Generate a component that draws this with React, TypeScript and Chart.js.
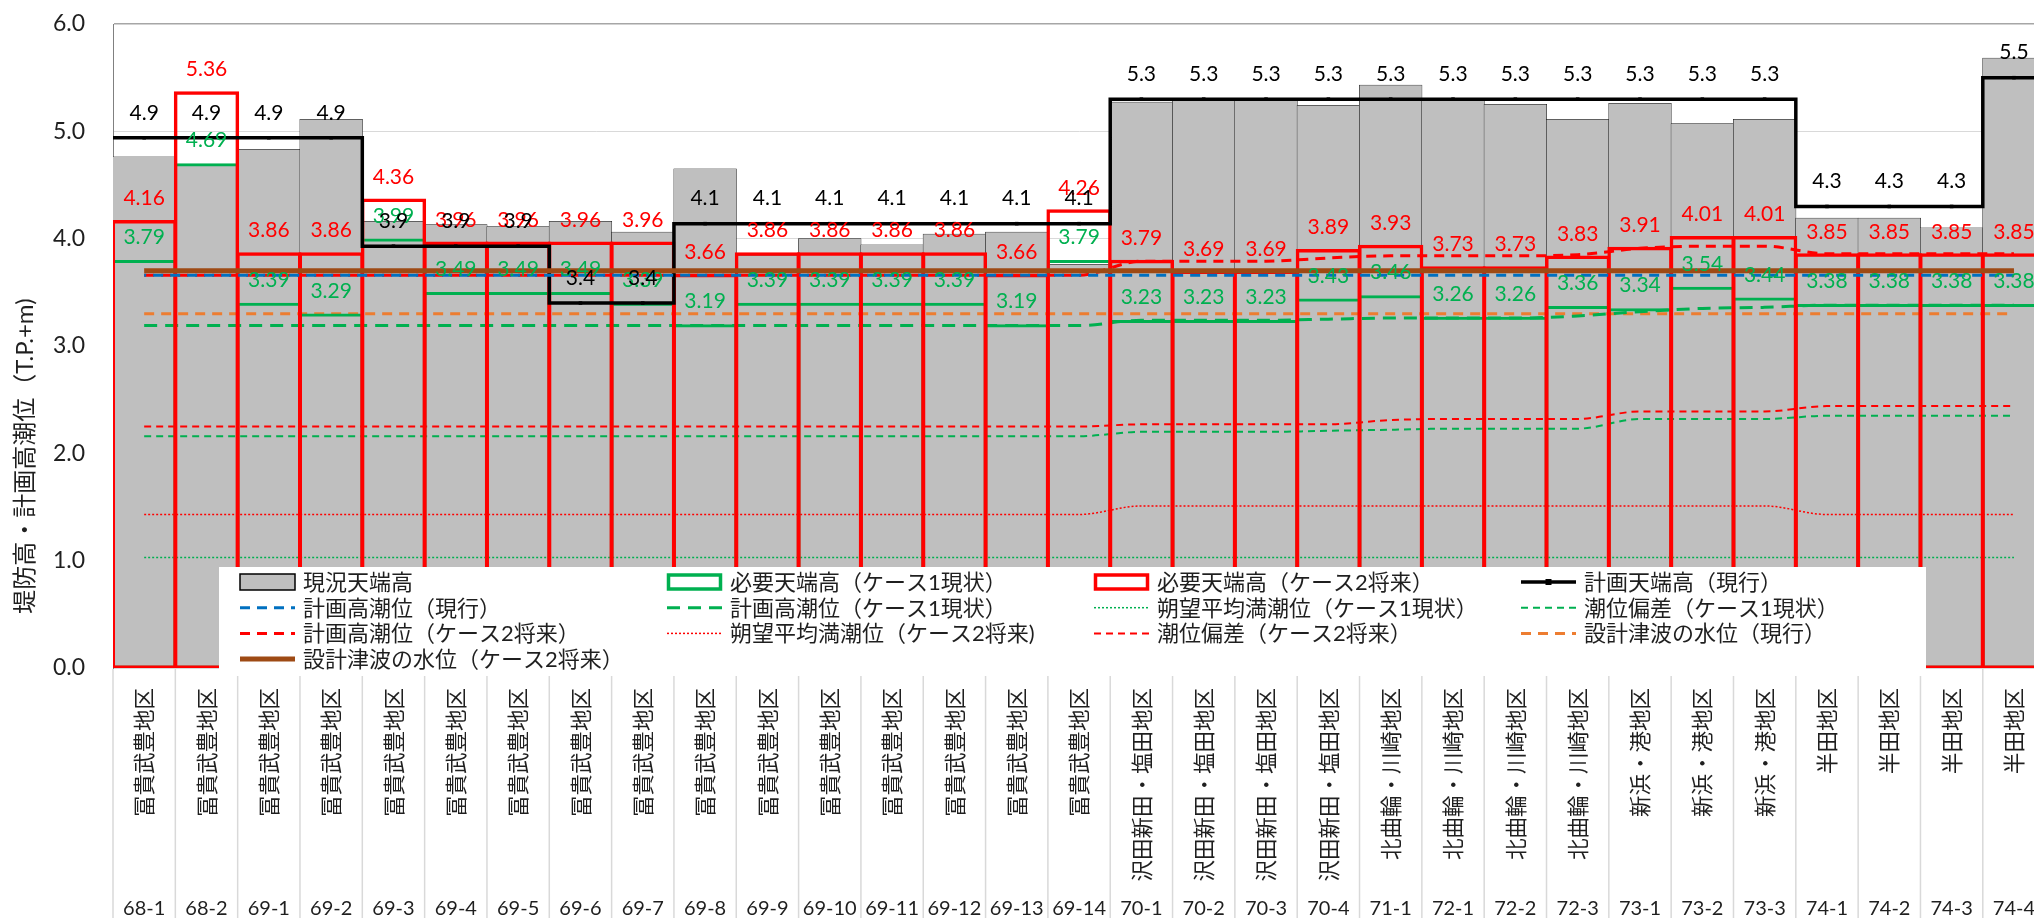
import React, { useEffect, useRef } from 'react';
import { Chart, registerables } from 'chart.js';

Chart.register(...registerables);

// ---------------- data ----------------
const sectionCodes = [
  '68-1', '68-2', '69-1', '69-2', '69-3', '69-4', '69-5', '69-6', '69-7', '69-8',
  '69-9', '69-10', '69-11', '69-12', '69-13', '69-14', '70-1', '70-2', '70-3', '70-4',
  '71-1', '72-1', '72-2', '72-3', '73-1', '73-2', '73-3', '74-1', '74-2', '74-3', '74-4',
];

const districtNames = [
  '冨貴武豊地区', '冨貴武豊地区', '冨貴武豊地区', '冨貴武豊地区', '冨貴武豊地区', '冨貴武豊地区',
  '冨貴武豊地区', '冨貴武豊地区', '冨貴武豊地区', '冨貴武豊地区', '冨貴武豊地区', '冨貴武豊地区',
  '冨貴武豊地区', '冨貴武豊地区', '冨貴武豊地区', '冨貴武豊地区',
  '沢田新田・塩田地区', '沢田新田・塩田地区', '沢田新田・塩田地区', '沢田新田・塩田地区',
  '北曲輪・川崎地区', '北曲輪・川崎地区', '北曲輪・川崎地区', '北曲輪・川崎地区',
  '新浜・港地区', '新浜・港地区', '新浜・港地区',
  '半田地区', '半田地区', '半田地区', '半田地区',
];

// 現況天端高
const existingCrest = [
  4.76, 4.68, 4.83, 5.11, 4.16, 4.13, 4.11, 4.16, 4.06, 4.65, 3.84, 4.0, 3.94, 4.04, 4.06, 3.76,
  5.27, 5.3, 5.29, 5.24, 5.43, 5.3, 5.25, 5.11, 5.26, 5.07, 5.11, 4.19, 4.19, 4.1, 5.68,
];
// 必要天端高（ケース1現状）
const requiredCase1 = [
  3.79, 4.69, 3.39, 3.29, 3.99, 3.49, 3.49, 3.49, 3.39, 3.19, 3.39, 3.39, 3.39, 3.39, 3.19, 3.79,
  3.23, 3.23, 3.23, 3.43, 3.46, 3.26, 3.26, 3.36, 3.34, 3.54, 3.44, 3.38, 3.38, 3.38, 3.38,
];
// 必要天端高（ケース2将来）
const requiredCase2 = [
  4.16, 5.36, 3.86, 3.86, 4.36, 3.96, 3.96, 3.96, 3.96, 3.66, 3.86, 3.86, 3.86, 3.86, 3.66, 4.26,
  3.79, 3.69, 3.69, 3.89, 3.93, 3.73, 3.73, 3.83, 3.91, 4.01, 4.01, 3.85, 3.85, 3.85, 3.85,
];
// 計画天端高（現行）
const plannedCrest = [
  4.94, 4.94, 4.94, 4.94, 3.93, 3.93, 3.93, 3.4, 3.4, 4.14, 4.14, 4.14, 4.14, 4.14, 4.14, 4.14,
  5.3, 5.3, 5.3, 5.3, 5.3, 5.3, 5.3, 5.3, 5.3, 5.3, 5.3, 4.3, 4.3, 4.3, 5.5,
];
// 計画高潮位（現行）
const highTideCurrent = [
  3.66, 3.66, 3.66, 3.66, 3.66, 3.66, 3.66, 3.66, 3.66, 3.66, 3.66, 3.66, 3.66, 3.66, 3.66, 3.66,
  3.66, 3.66, 3.66, 3.66, 3.66, 3.66, 3.66, 3.66, 3.66, 3.66, 3.66, 3.66, 3.66, 3.66, 3.66,
];
// 計画高潮位（ケース1現状）
const highTideCase1 = [
  3.19, 3.19, 3.19, 3.19, 3.19, 3.19, 3.19, 3.19, 3.19, 3.19, 3.19, 3.19, 3.19, 3.19, 3.19, 3.19,
  3.24, 3.24, 3.24, 3.25, 3.26, 3.26, 3.26, 3.28, 3.32, 3.35, 3.36, 3.38, 3.38, 3.38, 3.38,
];
// 朔望平均満潮位（ケース1現状）
const meanHighWaterCase1 = [
  1.03, 1.03, 1.03, 1.03, 1.03, 1.03, 1.03, 1.03, 1.03, 1.03, 1.03, 1.03, 1.03, 1.03, 1.03, 1.03,
  1.03, 1.03, 1.03, 1.03, 1.03, 1.03, 1.03, 1.03, 1.03, 1.03, 1.03, 1.03, 1.03, 1.03, 1.03,
];
// 潮位偏差（ケース1現状）
const surgeCase1 = [
  2.16, 2.16, 2.16, 2.16, 2.16, 2.16, 2.16, 2.16, 2.16, 2.16, 2.16, 2.16, 2.16, 2.16, 2.16, 2.16,
  2.2, 2.2, 2.2, 2.21, 2.22, 2.23, 2.23, 2.23, 2.32, 2.32, 2.32, 2.35, 2.35, 2.35, 2.35,
];
// 計画高潮位（ケース2将来）
const highTideCase2 = [
  3.66, 3.66, 3.66, 3.66, 3.66, 3.66, 3.66, 3.66, 3.66, 3.66, 3.66, 3.66, 3.66, 3.66, 3.66, 3.66,
  3.79, 3.79, 3.79, 3.82, 3.84, 3.84, 3.84, 3.85, 3.91, 3.93, 3.93, 3.86, 3.86, 3.86, 3.86,
];
// 朔望平均満潮位（ケース2将来)
const meanHighWaterCase2 = [
  1.43, 1.43, 1.43, 1.43, 1.43, 1.43, 1.43, 1.43, 1.43, 1.43, 1.43, 1.43, 1.43, 1.43, 1.43, 1.43,
  1.51, 1.51, 1.51, 1.51, 1.51, 1.51, 1.51, 1.51, 1.51, 1.51, 1.51, 1.43, 1.43, 1.43, 1.43,
];
// 潮位偏差（ケース2将来）
const surgeCase2 = [
  2.25, 2.25, 2.25, 2.25, 2.25, 2.25, 2.25, 2.25, 2.25, 2.25, 2.25, 2.25, 2.25, 2.25, 2.25, 2.25,
  2.27, 2.27, 2.27, 2.27, 2.31, 2.32, 2.32, 2.32, 2.39, 2.39, 2.39, 2.44, 2.44, 2.44, 2.44,
];
// 設計津波の水位（現行）
const tsunamiCurrent = [
  3.3, 3.3, 3.3, 3.3, 3.3, 3.3, 3.3, 3.3, 3.3, 3.3, 3.3, 3.3, 3.3, 3.3, 3.3, 3.3,
  3.3, 3.3, 3.3, 3.3, 3.3, 3.3, 3.3, 3.3, 3.3, 3.3, 3.3, 3.3, 3.3, 3.3, 3.3,
];
// 設計津波の水位（ケース2将来）
const tsunamiCase2 = [
  3.7, 3.7, 3.7, 3.7, 3.7, 3.7, 3.7, 3.7, 3.7, 3.7, 3.7, 3.7, 3.7, 3.7, 3.7, 3.7,
  3.7, 3.7, 3.7, 3.7, 3.7, 3.7, 3.7, 3.7, 3.7, 3.7, 3.7, 3.7, 3.7, 3.7, 3.7,
];

const yAxisMin = 0;
const yAxisMax = 6;
const yAxisStep = 1;
const yAxisTitle = '堤防高・計画高潮位（T.P.+m)';

// ---------------- styles ----------------
const FONT = 'Lato, "Noto Sans CJK JP", sans-serif';
const CJK = '"Noto Sans CJK JP", sans-serif';
const TEXT = '#1f1f1f';
const RED = '#FF0000';
const GREEN = '#00B050';
const BLUE = '#0070C0';
const ORANGE = '#ED7D31';
const BROWN = '#9E4A14';
const GREY = '#BFBFBF';

const CANVAS_W = 2060;
const CANVAS_H = 927;

function lineDs(label: string, data: number[], color: string, width: number, dash: number[], order: number, dashOffset = 0) {
  return {
    type: 'line' as const,
    label,
    data,
    borderColor: color,
    backgroundColor: color,
    borderWidth: width,
    borderDash: dash,
    borderDashOffset: dashOffset,
    pointRadius: 0,
    pointHoverRadius: 0,
    fill: false,
    tension: 0.4,
    cubicInterpolationMode: 'monotone' as const,
    order,
  };
}

const overlayPlugin = {
  id: 'overlayPlugin',
  afterDatasetsDraw(chart: any) {
    const ctx = chart.ctx;
    chart.data.datasets.forEach((ds: any, di: number) => {
      const cfg = ds.valueLabel;
      if (!cfg) return;
      const meta = chart.getDatasetMeta(di);
      ctx.save();
      ctx.font = `21px ${FONT}`;
      ctx.fillStyle = cfg.color;
      ctx.textAlign = 'center';
      ctx.textBaseline = 'middle';
      meta.data.forEach((el: any, j: number) => {
        let v: number;
        if (cfg.step) {
          if (j % 3 !== 1) return;
          v = ds.data[j].y;
        } else {
          v = ds.data[j];
        }
        ctx.fillText(v.toFixed(cfg.decimals), el.x, el.y - cfg.offset);
      });
      ctx.restore();
    });
  },
  afterDraw(chart: any) {
    const ctx = chart.ctx;
    const xs = chart.scales.x;
    const n = xs.getLabels().length;
    const w = xs.width / n;
    // separators in the category label area
    ctx.save();
    ctx.strokeStyle = '#D9D9D9';
    ctx.lineWidth = 1.5;
    for (let k = 0; k <= n; k++) {
      const px = xs.left + k * w;
      ctx.beginPath();
      ctx.moveTo(px, chart.chartArea.bottom + 1);
      ctx.lineTo(px, chart.height);
      ctx.stroke();
    }
    ctx.restore();

    // legend box
    const area = chart.chartArea;
    const boxL = area.left + 106;
    const boxT = 567;
    const boxR = area.left + 1813;
    const boxB = 676;
    ctx.save();
    ctx.fillStyle = '#FFFFFF';
    ctx.fillRect(boxL, boxT, boxR - boxL, boxB - boxT);
    const colW = 427;
    const rowH = 25.7;
    const markW = 55;
    chart.data.datasets.forEach((ds: any, i: number) => {
      const col = i % 4;
      const row = Math.floor(i / 4);
      const mx = boxL + 21 + col * colW;
      const my = boxT + 15 + row * rowH;
      ctx.save();
      if (ds.type === 'bar') {
        if (ds.legendFill) {
          ctx.fillStyle = ds.backgroundColor;
          ctx.fillRect(mx, my - 8, markW, 16);
          ctx.strokeStyle = '#000';
          ctx.lineWidth = 1.5;
          ctx.strokeRect(mx, my - 8, markW, 16);
        } else {
          ctx.strokeStyle = ds.borderColor;
          ctx.lineWidth = 3.5;
          ctx.strokeRect(mx + 1.5, my - 7, markW - 3, 14);
        }
      } else {
        ctx.strokeStyle = ds.borderColor;
        ctx.lineWidth = Math.min(ds.borderWidth, 5);
        ctx.setLineDash(ds.borderDash || []);
        ctx.lineCap = 'butt';
        ctx.beginPath();
        ctx.moveTo(mx, my);
        ctx.lineTo(mx + markW, my);
        ctx.stroke();
        if (ds.valueLabel && ds.valueLabel.step) {
          ctx.fillStyle = '#000';
          ctx.fillRect(mx + markW / 2 - 3, my - 3, 6, 6);
        }
      }
      ctx.restore();
      ctx.fillStyle = TEXT;
      ctx.font = `22px ${FONT}`;
      ctx.textAlign = 'left';
      ctx.textBaseline = 'middle';
      ctx.fillText(ds.label, mx + 63, my + 1);
    });
    ctx.restore();
  },
};

export default function App() {
  const ref = useRef<HTMLCanvasElement>(null);

  useEffect(() => {
    if (!ref.current) return;

    const stepData = plannedCrest.flatMap((v, i) => [
      { x: i - 0.5, y: v },
      { x: i, y: v },
      { x: i + 0.5, y: v },
    ]);

    const datasets: any[] = [
      {
        type: 'bar',
        label: '現況天端高',
        data: existingCrest,
        backgroundColor: GREY,
        borderColor: '#000000',
        borderWidth: 0.5,
        inflateAmount: 0.5,
        borderSkipped: false,
        grouped: false,
        barPercentage: 1,
        categoryPercentage: 1,
        legendFill: true,
        order: 20,
      },
      {
        type: 'bar',
        label: '必要天端高（ケース1現状）',
        data: requiredCase1,
        backgroundColor: 'rgba(0,0,0,0)',
        borderColor: GREEN,
        borderWidth: 0.4,
        inflateAmount: 1.3,
        borderSkipped: false,
        grouped: false,
        barPercentage: 1,
        categoryPercentage: 1,
        valueLabel: { color: GREEN, decimals: 2, offset: 24 },
        order: 5,
      },
      {
        type: 'bar',
        label: '必要天端高（ケース2将来）',
        data: requiredCase2,
        backgroundColor: 'rgba(0,0,0,0)',
        borderColor: RED,
        borderWidth: 0.5,
        inflateAmount: 1.5,
        borderSkipped: false,
        grouped: false,
        barPercentage: 1,
        categoryPercentage: 1,
        valueLabel: { color: RED, decimals: 2, offset: 23 },
        order: 4,
      },
      {
        type: 'line',
        label: '計画天端高（現行）',
        data: stepData,
        xAxisID: 'xs',
        borderColor: '#000000',
        backgroundColor: '#000000',
        borderWidth: 3.5,
        pointStyle: 'rect',
        pointRadius: (c: any) => (c.dataIndex % 3 === 1 ? 2.5 : 0),
        pointBorderWidth: 0,
        pointHoverRadius: 0,
        tension: 0,
        fill: false,
        valueLabel: { color: '#000000', decimals: 1, offset: 25, step: true },
        order: 3,
      },
      lineDs('計画高潮位（現行）', highTideCurrent, BLUE, 3, [10, 7], 1, 8),
      lineDs('計画高潮位（ケース1現状）', highTideCase1, GREEN, 3, [13, 8], 6),
      lineDs('朔望平均満潮位（ケース1現状）', meanHighWaterCase1, GREEN, 1.5, [2, 2], 9),
      lineDs('潮位偏差（ケース1現状）', surgeCase1, GREEN, 2, [7, 5], 8),
      lineDs('計画高潮位（ケース2将来）', highTideCase2, RED, 3, [10, 7], 6),
      lineDs('朔望平均満潮位（ケース2将来)', meanHighWaterCase2, RED, 1.5, [2, 2], 9),
      lineDs('潮位偏差（ケース2将来）', surgeCase2, RED, 2, [7, 5], 8),
      lineDs('設計津波の水位（現行）', tsunamiCurrent, ORANGE, 3, [10, 7], 7),
      lineDs('設計津波の水位（ケース2将来）', tsunamiCase2, BROWN, 5, [], 0),
    ];

    const chart = new Chart(ref.current, {
      type: 'bar',
      data: { labels: sectionCodes, datasets },
      options: {
        responsive: false,
        animation: false,
        events: [],
        layout: { padding: { top: 24, right: 10, left: 0, bottom: 0 } },
        plugins: {
          legend: { display: false },
          tooltip: { enabled: false },
          title: { display: false },
        },
        scales: {
          x: {
            type: 'category',
            labels: districtNames,
            position: 'bottom',
            weight: 0,
            offset: true,
            grid: { display: false, drawTicks: false, tickLength: 0, offset: true },
            border: { display: false },
            ticks: {
              autoSkip: false,
              minRotation: 90,
              maxRotation: 90,
              padding: 20,
              color: TEXT,
              font: { family: CJK, size: 21.5 },
            },
            afterFit: (s: any) => {
              s.height = 229;
            },
          },
          x2: {
            type: 'category',
            position: 'bottom',
            weight: 1,
            offset: true,
            grid: { display: false, drawTicks: false, tickLength: 0, offset: true },
            border: { display: false },
            ticks: {
              autoSkip: false,
              minRotation: 0,
              maxRotation: 0,
              padding: 0,
              color: TEXT,
              font: { family: FONT, size: 20 },
            },
            afterFit: (s: any) => {
              s.height = 30;
            },
          },
          xs: {
            type: 'linear',
            position: 'top',
            display: false,
            offset: false,
            min: -0.5,
            max: sectionCodes.length - 0.5,
          },
          y: {
            type: 'linear',
            position: 'left',
            min: yAxisMin,
            max: yAxisMax,
            ticks: {
              stepSize: yAxisStep,
              padding: 28,
              color: TEXT,
              font: { family: FONT, size: 23 },
              callback: (v: any) => Number(v).toFixed(1),
            },
            grid: {
              color: (c: any) => (c.tick && c.tick.value === yAxisMax ? '#A6A6A6' : '#D9D9D9'),
              lineWidth: (c: any) => (c.tick && c.tick.value === yAxisMax ? 1.5 : 1),
              drawTicks: false,
              tickLength: 0,
            },
            border: { display: true, color: '#808080', width: 1 },
            title: {
              display: true,
              text: '\u3000\u3000 ' + yAxisTitle,
              align: 'start',
              color: TEXT,
              font: { family: FONT, size: 24 },
              padding: { top: 11, bottom: 0 },
            },
            afterFit: (s: any) => {
              s.width = 113;
              s.paddingTop = 12;
              s.paddingBottom = 12;
            },
          },
        },
      },
      plugins: [overlayPlugin],
    } as any);

    return () => chart.destroy();
  }, []);

  return (
    <div
      style={{
        position: 'fixed',
        left: 0,
        top: 0,
        width: 2034,
        height: 918,
        overflow: 'hidden',
        background: '#FFFFFF',
      }}
    >
      <canvas
        ref={ref}
        width={CANVAS_W}
        height={CANVAS_H}
        style={{ display: 'block', width: CANVAS_W, height: CANVAS_H }}
      />
    </div>
  );
}
